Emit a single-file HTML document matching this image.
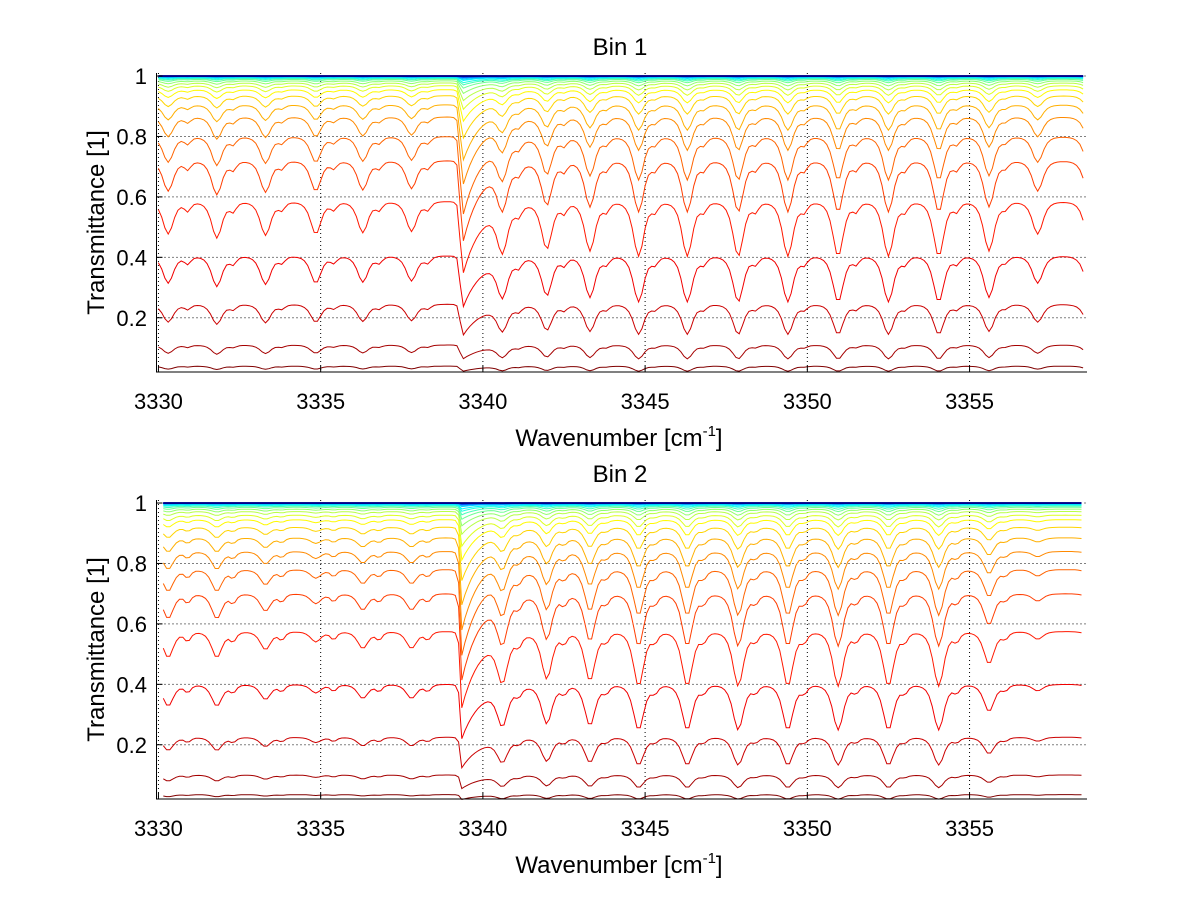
<!DOCTYPE html>
<html><head><meta charset="utf-8"><style>
html,body{margin:0;padding:0;background:#fff;}
svg{display:block;font-family:"Liberation Sans",Arial,sans-serif;}
</style></head><body>
<svg id="fig" width="1200" height="901" viewBox="0 0 1200 901" xmlns="http://www.w3.org/2000/svg"></svg>
<script>
// ---- data ----
const lineCenters = [3330.3,3331.8,3333.3,3334.85,3336.3,3337.8,3340.6,3341.97,3343.3,3344.8,3346.3,3347.87,3349.4,3350.95,3352.5,3354.05,3355.6,3357.1,3358.7];
const bin1Strengths = [0.25,0.28,0.26,0.25,0.24,0.23,0.35,0.36,0.38,0.42,0.42,0.42,0.42,0.42,0.42,0.42,0.38,0.25,0.3];
const bin2Strengths = [0.2,0.2,0.14,0.08,0.13,0.13,0.35,0.36,0.38,0.42,0.42,0.42,0.42,0.42,0.42,0.42,0.25,0.06,0.03];
const satelliteCenters = [3330.9,3332.3,3333.8,3335.4,3336.8,3338.3,3341.1,3342.5,3343.8,3345.3,3346.8,3348.4,3349.9,3351.5,3353.0,3354.6,3356.1];
const satelliteStrengths = [0.07,0.07,0.06,0.06,0.06,0.06,0.08,0.08,0.07,0.07,0.07,0.07,0.07,0.07,0.07,0.07,0.05];
const bandHeadCenter = 3339.35;
const bandHeadStrength1 = 0.45;
const bandHeadStrength2 = 0.45;
const bin1Levels = [0.04,0.11,0.245,0.405,0.585,0.72,0.80,0.865,0.905,0.935,0.955,0.968,0.977,0.984,0.989,0.992,0.994,0.996,0.997,0.998,0.9985,0.999,0.9993,0.9995,0.9997,0.9998,0.9999,1.0];
const bin2Levels = [0.035,0.10,0.225,0.40,0.575,0.70,0.78,0.84,0.885,0.92,0.945,0.96,0.972,0.98,0.986,0.99,0.993,0.995,0.997,0.998,0.9985,0.999,0.9993,0.9995,0.9997,0.9998,0.9999,1.0];
const xTicks = [3330,3335,3340,3345,3350,3355];
const yTicks = [0.2,0.4,0.6,0.8,1];
const yTickLabels = ["0.2","0.4","0.6","0.8","1"];
const panelTitles = ["Bin 1","Bin 2"];

// ---- layout ----
const NS = "http://www.w3.org/2000/svg";
const svg = document.getElementById('fig');
const XMIN = 3329.94, XMAX = 3358.62, YMIN = 0.0205, YMAX = 1.01;
const L = 156.5, R = 1087;
const panels = [
  {top:73, bot:372, levels:bin1Levels, strengths:bin1Strengths, head:bandHeadStrength1, x0:3330.0, x1:3358.55, title:panelTitles[0]},
  {top:500, bot:799, levels:bin2Levels, strengths:bin2Strengths, head:bandHeadStrength2, x0:3330.15, x1:3358.45, title:panelTitles[1]}
];
function mk(tag, attrs, parent){const e=document.createElementNS(NS,tag);for(const k in attrs)e.setAttribute(k,attrs[k]);(parent||svg).appendChild(e);return e;}
function jet(x){const c=v=>Math.round(255*Math.max(0,Math.min(1,v)));return `rgb(${c(1.5-Math.abs(4*x-3))},${c(1.5-Math.abs(4*x-2))},${c(1.5-Math.abs(4*x-1))})`;}
function prof(d,w){const q=d/w;return 1/((1+q*q)*(1+q*q));}
function headProf(d){ if(d<0){const q=d/0.08;return 1/((1+q*q)*(1+q*q));} return Math.exp(-d/0.6);}

panels.forEach((p,pi)=>{
  const sx = v => L + (v-XMIN)/(XMAX-XMIN)*(R-L);
  const sy = v => p.bot - (v-YMIN)/(YMAX-YMIN)*(p.bot-p.top);
  const g = mk('g',{});
  
  
  xTicks.forEach(t=>{const l=mk('line',{x1:sx(t),x2:sx(t),y1:p.top,y2:p.bot,stroke:'#000','stroke-width':1,'stroke-dasharray':'1,3'},g);
    });
  yTicks.forEach(t=>{const l=mk('line',{x1:L,x2:R,y1:sy(t),y2:sy(t),stroke:'#000','stroke-width':1,'stroke-dasharray':'1,3'},g);
    });
  const N = p.levels.length;
  p.levels.forEach((T0,i)=>{
    const tau = -Math.log(Math.max(T0,1e-6));
    const sat = 1-Math.exp(-tau/0.4);
    const satH = 1-Math.exp(-tau/0.15);
    const pts=[];
    for(let v=p.x0; v<=p.x1+1e-9; v+=0.1){
      let T=T0;
      lineCenters.forEach((c,j)=>{T*=1-p.strengths[j]*sat*prof(v-c,0.3);});
      satelliteCenters.forEach((c,j)=>{T*=1-satelliteStrengths[j]*sat*prof(v-c,0.18);});
      T*=1-p.head*satH*headProf(v-bandHeadCenter);
      pts.push(sx(v).toFixed(1)+','+sy(T).toFixed(1));
    }
    const pl=mk('polyline',{points:pts.join(' '),fill:'none',stroke:jet(1-i/(N-1)),'stroke-width':(i>=N-3?1.6:1)},g);
    
    
  });
  const ax=mk('path',{d:`M${L},${p.top} V${p.bot} H${R}`,stroke:'#000','stroke-width':1,fill:'none'},g);
  
  xTicks.forEach(t=>{
    mk('line',{x1:sx(t),x2:sx(t),y1:p.bot,y2:p.bot-6,stroke:'#000'},g);
    const tx=mk('text',{x:sx(t),y:p.bot+37,'font-size':22,'text-anchor':'middle',fill:'#000'},g);
    tx.textContent=t;
    
  });
  yTicks.forEach((t,k)=>{
    mk('line',{x1:L,x2:L+6,y1:sy(t),y2:sy(t),stroke:'#000'},g);
    const tx=mk('text',{x:147,y:sy(t)+8,'font-size':22,'text-anchor':'end',fill:'#000'},g);
    tx.textContent=yTickLabels[k];
    
  });
  const ti=mk('text',{x:620,y:p.top-18,'font-size':24,'text-anchor':'middle',fill:'#000'},g);
  ti.textContent=p.title;
  
  const xl=mk('text',{x:619,y:p.bot+74,'font-size':24,'text-anchor':'middle',fill:'#000'},g);
  xl.innerHTML='Wavenumber [cm<tspan font-size="15" dy="-10">-1</tspan><tspan dy="10">]</tspan>';
  
  const cy=(p.top+p.bot)/2;
  const yl=mk('text',{x:0,y:0,'font-size':24,'text-anchor':'middle',fill:'#000',transform:`translate(104,${cy}) rotate(-90)`},g);
  yl.textContent='Transmittance [1]';
  
});
</script>
</body></html>
